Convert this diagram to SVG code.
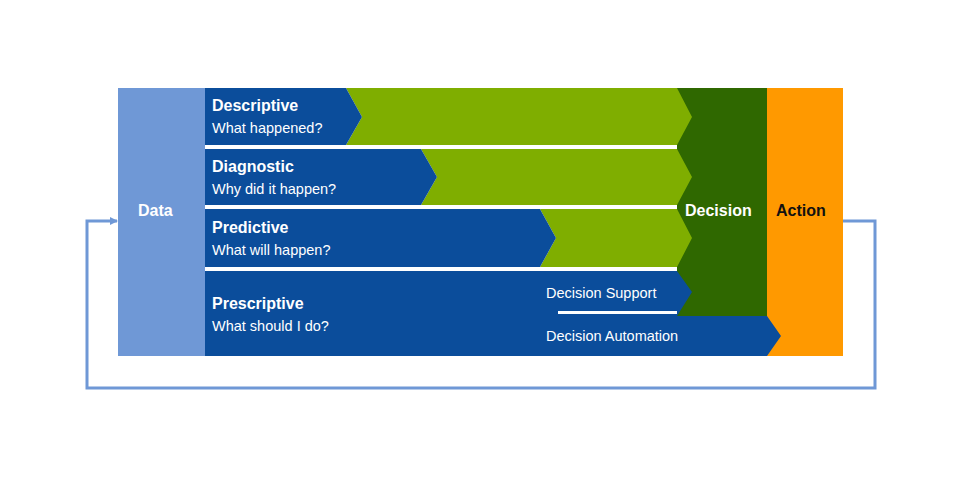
<svg xmlns="http://www.w3.org/2000/svg" width="960" height="480" viewBox="0 0 960 480">
<style>
text{font-family:"Liberation Sans",Arial,sans-serif;fill:#fff}
.t{font-weight:bold;font-size:16px}
.s{font-size:14.5px}
.b{fill:#0b4d9b}.g{fill:#7fae00}.w{fill:#fff}
</style>
<defs><marker id="ah" markerWidth="8" markerHeight="8" refX="7" refY="4" orient="auto" markerUnits="userSpaceOnUse"><path d="M0,0 L8,4 L0,8 z" fill="#6f98d6"/></marker></defs>
<rect width="960" height="480" fill="#fff"/>
<g id="decision"><rect x="677" y="88" width="90" height="228" fill="#2f6800"/><text class="t" x="685" y="216">Decision</text></g>
<g id="action"><rect x="767" y="88" width="76" height="268" fill="#ff9900"/><text class="t" x="776" y="216" style="fill:#111">Action</text></g>
<g id="data"><rect x="118" y="88" width="87" height="268" fill="#6f98d6"/><text class="t" x="138" y="216">Data</text></g>
<g id="descriptive">
<path class="g" d="M346,88 H677 L692,117 L677,145 H346 L362,117 Z"/>
<path class="b" d="M205,88 H346 L362,117 L346,145 H205 Z"/>
<text class="t" x="212" y="111">Descriptive</text><text class="s" x="212" y="133">What happened?</text></g>
<g id="diagnostic">
<path class="g" d="M421,149 H677 L692,177 L677,205 H421 L437,177 Z"/>
<path class="b" d="M205,149 H421 L437,177 L421,205 H205 Z"/>
<text class="t" x="212" y="172">Diagnostic</text><text class="s" x="212" y="194">Why did it happen?</text></g>
<g id="predictive">
<path class="g" d="M540,209 H677 L692,238 L677,267 H540 L556,238 Z"/>
<path class="b" d="M205,209 H540 L556,238 L540,267 H205 Z"/>
<text class="t" x="212" y="233">Predictive</text><text class="s" x="212" y="255">What will happen?</text></g>
<g id="prescriptive">
<path class="b" d="M205,271 H677 L692,292 L677,316 H767 L781,336 L767,356 H205 Z"/>
<rect class="w" x="558" y="311" width="119" height="3"/>
<text class="t" x="212" y="309">Prescriptive</text><text class="s" x="212" y="331">What should I do?</text>
<text class="s" x="546" y="298">Decision Support</text><text class="s" x="546" y="341">Decision Automation</text></g>
<g id="connectors"><path d="M843,221 H875 V388 H87 V221 H117" fill="none" stroke="#6f98d6" stroke-width="3" marker-end="url(#ah)"/></g>
</svg>
